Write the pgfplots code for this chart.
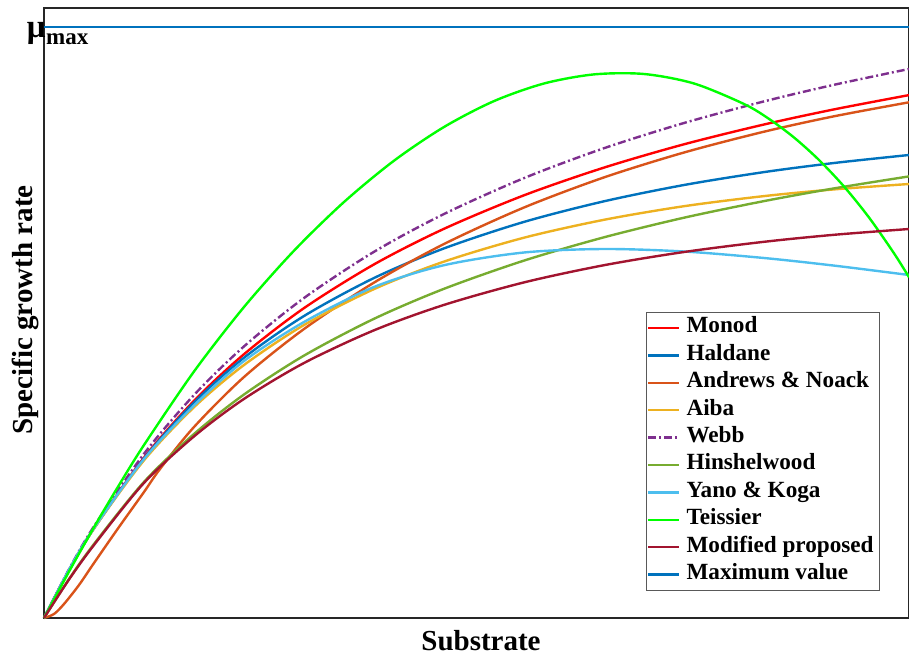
\documentclass[border=0pt]{standalone}
\usepackage{fontspec}
\setmainfont{Liberation Serif}
\usepackage{pgfplots}
\pgfplotsset{compat=1.18}
\definecolor{cMonod}{RGB}{255,0,0}
\definecolor{cHal}{HTML}{0072BD}
\definecolor{cAnd}{HTML}{D95319}
\definecolor{cAiba}{HTML}{EDB120}
\definecolor{cWebb}{HTML}{7E2F8E}
\definecolor{cHin}{HTML}{77AC30}
\definecolor{cYano}{HTML}{4DBEEE}
\definecolor{cTei}{RGB}{0,255,0}
\definecolor{cMod}{HTML}{A2142F}
\begin{document}
\begin{tikzpicture}
\begin{axis}[name=ax, scale only axis, width=432.5pt, height=305pt,
  xmin=0, xmax=865, ymin=0, ymax=610, xtick=\empty, ytick=\empty,
  axis line style={line width=0.75pt, black!85}, clip=false,
  legend style={at={(rel axis cs:0.9665,0.0443)}, anchor=south east, draw=black!65,
    font=\fontsize{11.6}{13}\selectfont\bfseries, inner xsep=2pt, inner ysep=1.5pt,
    row sep=0.7pt, column sep=0.5pt, nodes={inner sep=1pt, text height=8pt, text depth=3pt}},
  legend cell align=left,
  legend image code/.code={\path (0pt,0pt) (15.5pt,0pt); \draw[#1, overlay] (-1.5pt,0pt) -- (14pt,0pt);},
  every axis plot/.append style={line width=1.2pt}]
\addplot[cMonod, smooth] coordinates {(0,0) (25,47.9) (50,89.9) (100,160.4) (150,217.2) (200,263.8) (260,309.9) (330,353.6) (400,389.2) (480,422.7) (560,450.4) (640,473.7) (720,493.5) (790,508.6) (865,522.9)};
\addlegendentry{Monod}
\addplot[cHal, smooth] coordinates {(0,0) (25,47.8) (50,89.6) (100,159.5) (150,215.5) (200,260.3) (260,302.0) (330,340.0) (400,369.6) (480,396.1) (560,416.7) (640,433.0) (720,445.9) (790,455.0) (865,463.0)};
\addlegendentry{Haldane}
\addplot[cAnd, smooth] coordinates {(0,0) (10,4) (20,14) (35,33) (50,55) (75,91) (100,126) (116,149) (150,191) (200,241) (260,289) (330,335.4) (400,374) (480,410.5) (560,440.6) (640,465.5) (720,486.3) (790,501.7) (865,515.7)};
\addlegendentry{Andrews \& Noack}
\addplot[cAiba, smooth] coordinates {(0,0) (25,47.5) (50,89.5) (100,157.7) (150,210.8) (200,253.0) (260,293.0) (330,328.9) (400,356.4) (480,380.3) (560,398.2) (640,411.8) (720,421.9) (790,428.6) (865,434.0)};
\addlegendentry{Aiba}
\addplot[cWebb, smooth, dash pattern=on 4pt off 1.5pt on 1pt off 1.5pt] coordinates {(0,0) (25,48.7) (50,91.7) (100,164.2) (150,223.0) (200,271.6) (260,320.0) (330,366.2) (400,404.0) (480,439.9) (560,469.8) (640,495.0) (720,516.6) (790,533.2) (865,549.0)};
\addlegendentry{Webb}
\addplot[cHin, smooth] coordinates {(0,0) (25,39) (50,74) (100,136.1) (150,184.0) (200,223.5) (260,262.4) (330,299.2) (400,329.2) (480,357.4) (560,380.7) (640,400.3) (720,416.9) (790,429.6) (865,441.6)};
\addlegendentry{Hinshelwood}
\addplot[cYano, smooth] coordinates {(0,0) (25,48.2) (50,90) (100,159) (150,212.5) (200,257) (260,296) (330,331) (400,352.8) (480,365.5) (560,369) (640,366.5) (720,360) (790,352.4) (865,343)};
\addlegendentry{Yano \& Koga}
\addplot[cTei, smooth] coordinates {(0,0) (25,46.4) (50,90.8) (75,132.9) (100,173) (150,246.5) (200,311) (250,367.3) (300,416) (350,457.3) (400,491) (450,516.9) (500,534.5) (550,543.6) (600,544) (650,534.5) (700,514) (725,499.1) (750,480.5) (775,458) (800,431.5) (825,400.5) (850,364.7) (865,340.8)};
\addlegendentry{Teissier}
\addplot[cMod, smooth] coordinates {(0,0) (25,38.5) (50,73) (100,135.1) (150,181.6) (200,219.1) (260,255) (330,287.7) (400,313.1) (480,335.6) (560,352.8) (640,366.0) (720,376.2) (790,383.2) (865,389.0)};
\addlegendentry{Modified proposed}
\addplot[cHal] coordinates {(0,591) (865,591)};
\addlegendentry{Maximum value}
\end{axis}
\node[anchor=base west, inner sep=0pt] at ([xshift=-8.8pt,yshift=-15pt]ax.north west)
  {\fontsize{16.5}{16.5}\selectfont\bfseries μ\hspace{0.3pt}\raisebox{-3.5pt}{\fontsize{11.5}{11.5}\selectfont max}};
\node[rotate=90, anchor=base, inner sep=0pt, font=\fontsize{14.5}{14.5}\selectfont\bfseries]
  at ([xshift=-6pt,yshift=1.5pt]ax.west) {Specific growth rate};
\node[anchor=base, inner sep=0pt, font=\fontsize{14.5}{14.5}\selectfont\bfseries]
  at ([xshift=2.25pt,yshift=-16pt]ax.south) {Substrate};
\pgfresetboundingbox
\path[use as bounding box] ([xshift=-22pt,yshift=-18pt]ax.south west) rectangle ([yshift=4pt]ax.north east);
\end{tikzpicture}
\end{document}
